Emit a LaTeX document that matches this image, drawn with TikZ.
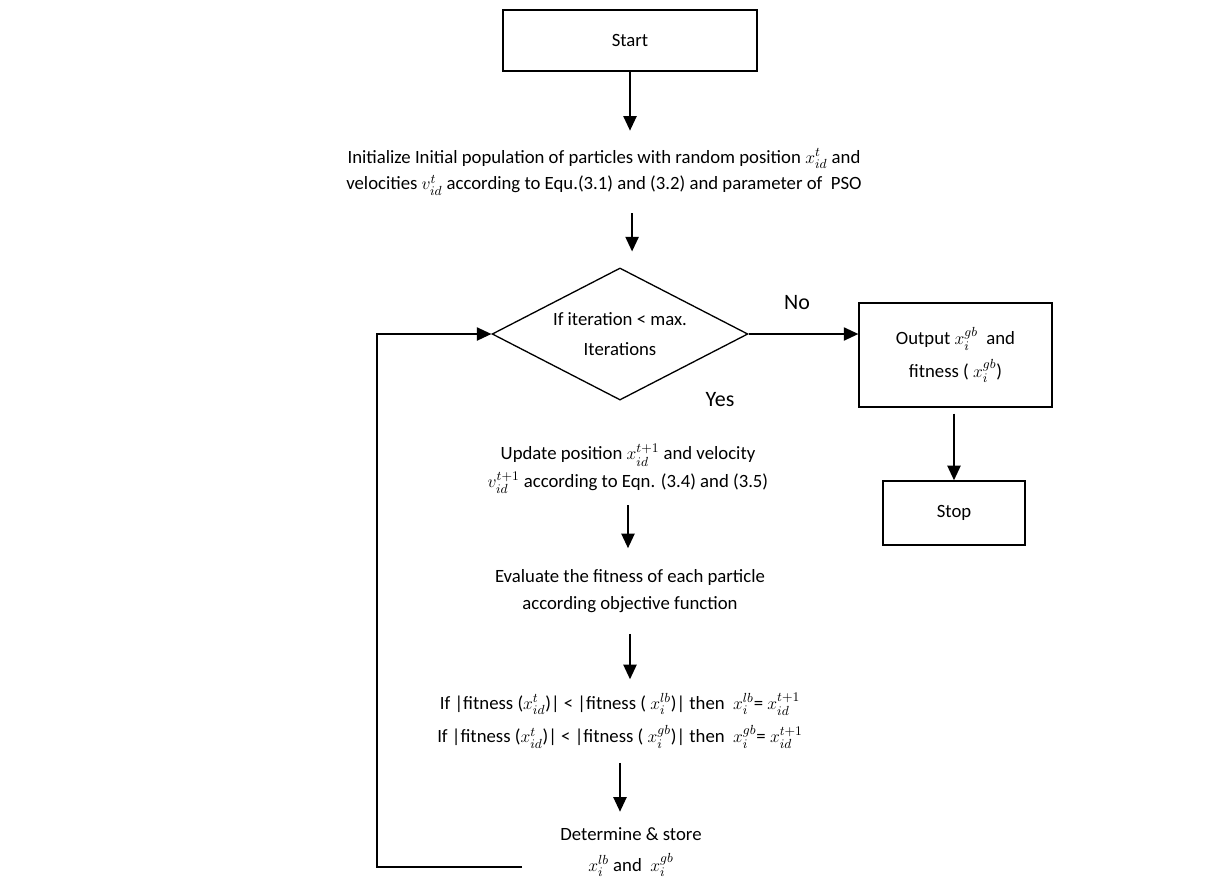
\documentclass[tikz,border=0pt]{standalone}
\usepackage{amsmath}
\usepackage{amsfonts}
\usepackage{amssymb}
\usepackage{fontspec}
\setmainfont{Carlito}
\usepackage{tikz}
\usetikzlibrary{shapes.geometric,arrows.meta,positioning}

\tikzset{
  box/.style={draw, line width=0.9pt, rectangle, inner sep=0pt, font=\fontsize{12.8}{#1}\selectfont, align=center},
  box/.default=22,
  decision/.style={draw, line width=0.9pt, diamond, aspect=2, inner sep=0pt, font=\fontsize{12.8}{20}\selectfont, align=center},
  txt/.style={inner sep=0pt, font=\fontsize{12.8}{#1}\selectfont, align=center},
  txt/.default=19,
  lbl/.style={inner sep=0pt, font=\fontsize{15}{18}\selectfont},
  arr/.style={line width=1.3pt, -{Triangle[length=10pt,width=9pt]}}
}

\begin{document}
\begin{tikzpicture}[x=0.024cm, y=-0.024cm]
\useasboundingbox (0,0) rectangle (1207,882);
\node[box, minimum width=6.10cm, minimum height=1.46cm] (start) at (630,40.5) {Start};
\node[txt=18, minimum height=1.97cm] (init) at (604,172) {Initialize Initial population of particles with random position $x_{id}^{t}$ and\\
  velocities $v_{id}^{t}$ according to Equ.(3.1) and (3.2) and parameter of\ \ PSO};
\node[decision, minimum width=6.14cm, minimum height=3.17cm] (dec) at (620,334) {If iteration < max.\\ Iterations};
\node[box=22, minimum width=4.63cm, minimum height=2.50cm] (out) at (955.5,355) {Output $x_{i}^{gb}$\ \ and\\ fitness ( $x_{i}^{gb}$)};
\node[box, minimum width=3.41cm, minimum height=1.54cm] (stop) at (954,513) {Stop};
\node[lbl] (no) at (797,303) {No};
\node[lbl] (yes) at (720,400) {Yes};
\node[txt=19, minimum height=1.73cm] (upd) at (628,469) {Update position $x_{id}^{t+1}$ and velocity\\
  $v_{id}^{t+1}$ according to Eqn. (3.4) and (3.5)};
\node[txt=18.5, minimum height=2.04cm] (eval) at (630,591) {Evaluate the fitness of each particle\\ according objective function};
\node[txt=23, minimum height=1.99cm] (cond) at (620,721) {If |fitness ($x_{id}^{t}$)| < |fitness ( $x_{i}^{lb}$)| then\ \ $x_{i}^{lb}$= $x_{id}^{t+1}$\\
  If |fitness ($x_{id}^{t}$)| < |fitness ( $x_{i}^{gb}$)| then\ \ $x_{i}^{gb}$= $x_{id}^{t+1}$};
\node[txt=21, minimum height=1.92cm] (det) at (631,852) {Determine \& store\\ $x_{i}^{lb}$ and\ \ $x_{i}^{gb}$};
\coordinate (back) at (522,867);
%
\draw[arr] (start.south) -- (start.south |- init.north);
\draw[arr, shorten >=0.38cm] ([xshift=0.29cm]init.south -| dec.north) -- ([xshift=0.29cm]dec.north);
\draw[arr] (dec.east) -- (dec.east -| out.west);
\draw[arr] ([yshift=-0.14cm]stop.north |- out.south) -- (stop.north);
\draw[arr] (upd.south) -- (upd.south |- eval.north);
\draw[arr] (eval.south) -- (eval.south |- cond.north);
\draw[arr] (cond.south) -- (cond.south |- det.north);
\draw[arr] (back) -- ++(-145,0) |- (dec.west);
\end{tikzpicture}
\end{document}
